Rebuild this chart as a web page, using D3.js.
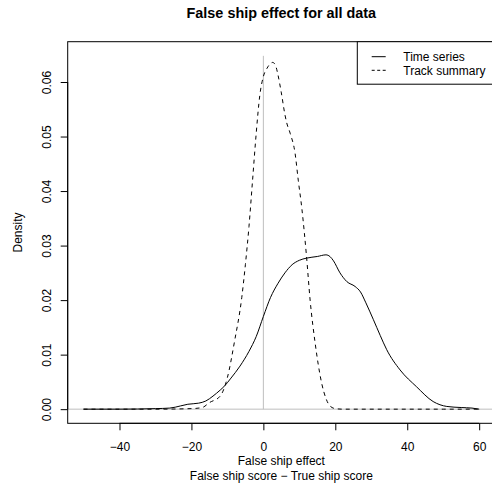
<!DOCTYPE html>
<html>
<head>
<meta charset="utf-8">
<script src="https://cdn.jsdelivr.net/npm/d3@7"></script>
<style>
  html, body { margin: 0; padding: 0; background: #fff; }
  svg { display: block; font-family: "Liberation Sans", Arial, Helvetica, sans-serif; }
</style>
</head>
<body>
<svg id="chart" width="492" height="486"></svg>
<script>
// Kernel density estimates of the false ship effect (false score − true score)
const timeSeriesX = [-50, -40, -30, -26, -23, -21, -18, -16, -14, -12, -11, -9, -6.5, -4, -2, 0, 2, 4, 6, 8, 10, 12, 15, 17.4, 18.5, 19.5, 21.3, 23.2, 25.5, 27, 28.5, 30.6, 32.5, 34.3, 38, 42.6, 47.2, 51, 55, 58, 60];
const timeSeriesY = [0.0000, 0.0000, 0.0001, 0.0002, 0.0006, 0.0009, 0.0011, 0.0015, 0.0024, 0.0035, 0.0041, 0.0057, 0.0079, 0.0106, 0.0133, 0.0170, 0.0205, 0.0230, 0.0250, 0.0265, 0.0273, 0.0277, 0.0280, 0.0283, 0.0280, 0.0272, 0.0250, 0.0234, 0.0225, 0.0215, 0.0195, 0.0164, 0.0135, 0.0109, 0.0072, 0.0041, 0.0014, 0.0005, 0.0003, 0.0002, 0.0000];

const trackSummaryX = [-50, -40, -30, -20, -17, -15, -12, -10, -8, -6, -5, -4, -3, -2, -1, 0, 1, 2, 2.6, 3.5, 4, 5, 6, 6.5, 7.5, 8.8, 9.7, 10.7, 12, 13, 14.4, 16.2, 17.5, 18.5, 20, 22, 40, 50, 60];
const trackSummaryY = [0.0000, 0.0000, 0.0000, 0.0001, 0.0003, 0.0012, 0.0024, 0.0058, 0.0125, 0.0205, 0.0265, 0.0335, 0.0420, 0.0505, 0.0575, 0.0610, 0.0625, 0.0634, 0.0636, 0.0628, 0.0615, 0.0580, 0.0540, 0.0525, 0.0505, 0.0470, 0.0420, 0.0368, 0.0280, 0.0200, 0.0121, 0.0048, 0.0018, 0.0006, 0.0001, 0.0000, 0.0000, 0.0000, 0.0000];

const xTicks = [-40, -20, 0, 20, 40, 60];
const yTicks = [0, 0.01, 0.02, 0.03, 0.04, 0.05, 0.06];
const seriesNames = ["Time series", "Track summary"];

const xRange = [-50, 60];
const yMax = 0.0648;

const svg = d3.select("#chart");
const plotL = 67.7, plotR = 495, plotT = 41.7, plotB = 423.3;

const xPad = 0.04 * (xRange[1] - xRange[0]);
const yPad = 0.04 * yMax;
const x = d3.scaleLinear().domain([xRange[0] - xPad, xRange[1] + xPad]).range([plotL, plotR]);
const y = d3.scaleLinear().domain([-yPad, yMax + yPad]).range([plotB, plotT]);

// reference lines: zero density and zero effect
svg.append("line")
  .attr("x1", plotL).attr("x2", plotR)
  .attr("y1", y(0)).attr("y2", y(0))
  .attr("stroke", "#bebebe").attr("stroke-width", 1);
svg.append("line")
  .attr("x1", x(0)).attr("x2", x(0))
  .attr("y1", y(0)).attr("y2", y(yMax))
  .attr("stroke", "#bebebe").attr("stroke-width", 1);

const line = d3.line()
  .x(d => x(d[0]))
  .y(d => y(d[1]))
  .curve(d3.curveMonotoneX);

svg.append("path")
  .datum(d3.zip(timeSeriesX, timeSeriesY))
  .attr("d", line)
  .attr("fill", "none").attr("stroke", "#000").attr("stroke-width", 1);

svg.append("path")
  .datum(d3.zip(trackSummaryX, trackSummaryY))
  .attr("d", line)
  .attr("fill", "none").attr("stroke", "#000").attr("stroke-width", 1)
  .attr("stroke-dasharray", "4,4");

// plot frame
svg.append("rect")
  .attr("x", plotL).attr("y", plotT)
  .attr("width", plotR - plotL).attr("height", plotB - plotT)
  .attr("fill", "none").attr("stroke", "#000").attr("stroke-width", 1);

// x axis
const xAxis = svg.append("g")
  .attr("transform", `translate(0,${plotB})`)
  .call(d3.axisBottom(x).tickValues(xTicks).tickSize(7).tickSizeOuter(0).tickFormat(d3.format("d")));
xAxis.select(".domain").remove();
xAxis.selectAll(".tick line").attr("stroke", "#000");
xAxis.selectAll(".tick text")
  .attr("y", 28).attr("dy", null)
  .attr("font-size", 12).attr("font-family", null).attr("fill", "#000");
xAxis.append("line")
  .attr("x1", x(xTicks[0])).attr("x2", x(xTicks[xTicks.length - 1]))
  .attr("y1", 0).attr("y2", 0).attr("stroke", "#000");

// y axis
const yAxis = svg.append("g")
  .attr("transform", `translate(${plotL},0)`)
  .call(d3.axisLeft(y).tickValues(yTicks).tickSize(7).tickSizeOuter(0).tickFormat(d3.format(".2f")));
yAxis.select(".domain").remove();
yAxis.selectAll(".tick line").attr("stroke", "#000");
yAxis.selectAll(".tick text")
  .attr("transform", "rotate(-90)")
  .attr("x", 0).attr("y", -16.3).attr("dy", null)
  .attr("text-anchor", "middle")
  .attr("font-size", 12).attr("font-family", null).attr("fill", "#000");
yAxis.append("line")
  .attr("x1", 0).attr("x2", 0)
  .attr("y1", y(yTicks[0])).attr("y2", y(yTicks[yTicks.length - 1])).attr("stroke", "#000");

// titles
const cx = (plotL + plotR) / 2;
svg.append("text")
  .attr("x", cx).attr("y", 17.7)
  .attr("text-anchor", "middle").attr("font-size", 14.4).attr("font-weight", "bold")
  .text("False ship effect for all data");
svg.append("text")
  .attr("x", cx).attr("y", 465.3)
  .attr("text-anchor", "middle").attr("font-size", 12)
  .text("False ship effect");
svg.append("text")
  .attr("x", cx).attr("y", 480.3)
  .attr("text-anchor", "middle").attr("font-size", 12)
  .text("False ship score \u2212 True ship score");
svg.append("text")
  .attr("transform", `translate(22,${(plotT + plotB) / 2}) rotate(-90)`)
  .attr("text-anchor", "middle").attr("font-size", 12)
  .text("Density");

// legend
const lg = svg.append("g");
lg.append("rect")
  .attr("x", 357.3).attr("y", plotT)
  .attr("width", 150).attr("height", 42.5)
  .attr("fill", "#fff").attr("stroke", "#000").attr("stroke-width", 1);
const rowsY = [56.7, 70.3];
seriesNames.forEach((name, i) => {
  lg.append("line")
    .attr("x1", 371.7).attr("x2", 385.7)
    .attr("y1", rowsY[i]).attr("y2", rowsY[i])
    .attr("stroke", "#000").attr("stroke-width", 1)
    .attr("stroke-dasharray", i === 1 ? "3,2.5" : null);
  lg.append("text")
    .attr("x", 403.3).attr("y", rowsY[i] + 4.3)
    .attr("font-size", 12)
    .text(name);
});
</script>
</body>
</html>
